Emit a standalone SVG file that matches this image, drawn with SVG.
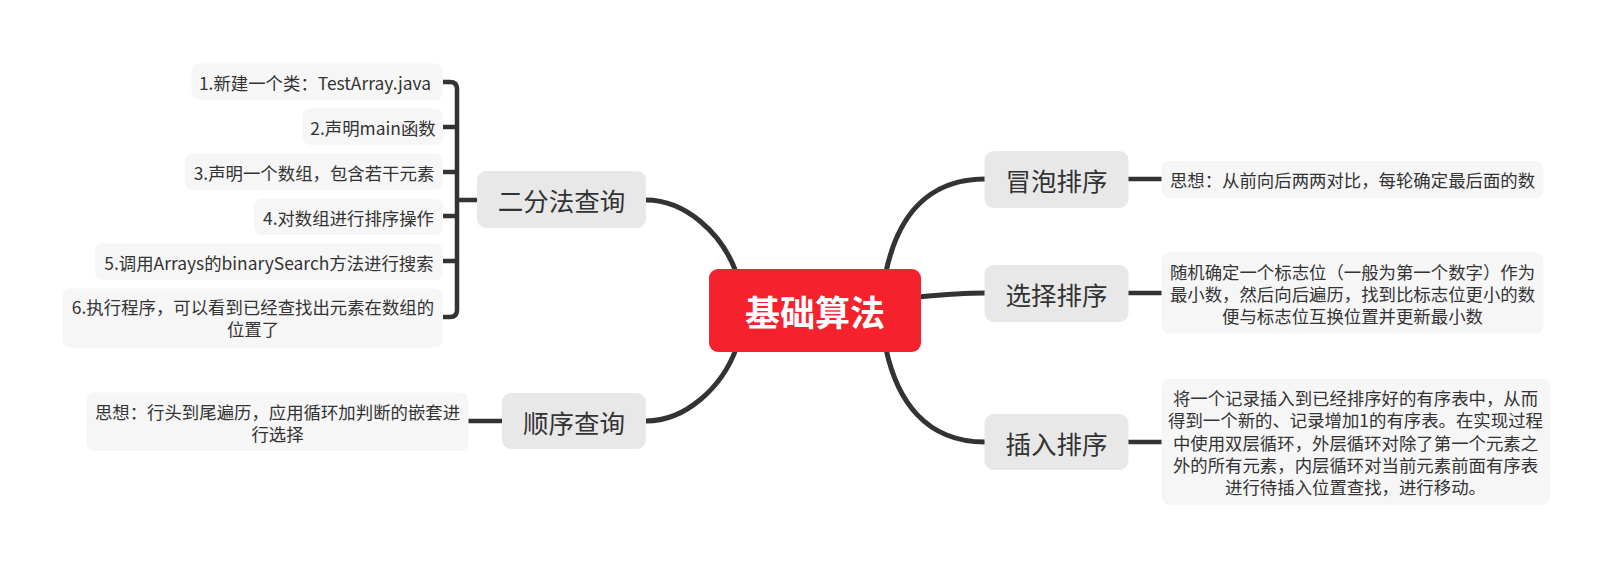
<svg xmlns="http://www.w3.org/2000/svg" width="1613" height="568" viewBox="0 0 1613 568">
<style>
.lnk{fill:none;stroke:#333333;stroke-width:5;stroke-linecap:butt}
.sub{fill:none;stroke:#333333;stroke-width:4.5}
.topic{fill:#E8E8E8}
.det{fill:#F6F6F6}
.tt{font-family:"Noto Sans CJK SC","Microsoft YaHei",sans-serif;font-size:25.5px;fill:#333333;text-anchor:middle;dominant-baseline:central}
.dt{font-family:"Noto Sans CJK SC","Microsoft YaHei",sans-serif;font-size:17.4px;fill:#333333;text-anchor:middle;dominant-baseline:central}
.ct{font-family:"Noto Sans CJK SC","Microsoft YaHei",sans-serif;font-size:35px;font-weight:bold;fill:#FFFFFF;text-anchor:middle;dominant-baseline:central}
</style>
<rect width="1613" height="568" fill="#FFFFFF"/>
<g id="connectors">
<path class="lnk" d="M646 200 C686 200 722 234 736 272"/>
<path class="lnk" d="M646 421 C686 421 722 387 736 349"/>
<path class="lnk" d="M886 272 C897 220 925 179 985 179"/>
<path class="lnk" d="M918 297 C950 294 962 293 985 293"/>
<path class="lnk" d="M886 349 C897 400 925 442 985 442"/>
<path class="sub" d="M1128 179 H1162"/>
<path class="sub" d="M1128 293 H1162"/>
<path class="sub" d="M1128 442 H1162"/>
<path class="sub" d="M502 421 H468"/>
<path class="sub" d="M443 82 H450 Q457 82 457 89 V310 Q457 317 450 317 H443"/>
<path class="sub" d="M443 127 H457 M443 172 H457 M443 216 H457 M443 261 H457 M457 200 H477"/>
</g>
<g id="central">
<rect x="709" y="269" width="212" height="83" rx="9" fill="#F5212D"/>
<text class="ct" x="815" y="310.5">基础算法</text>
</g>
<g id="n-binary">
<rect class="topic" x="477" y="171" width="169" height="57" rx="9"/>
<text class="tt" x="561.5" y="199.5">二分法查询</text>
</g>
<g id="n-seq">
<rect class="topic" x="502" y="393" width="144" height="56" rx="9"/>
<text class="tt" x="574" y="421">顺序查询</text>
</g>
<g id="n-bubble">
<rect class="topic" x="984.5" y="151" width="144" height="57" rx="9"/>
<text class="tt" x="1056.5" y="179.5">冒泡排序</text>
</g>
<g id="n-select">
<rect class="topic" x="984.5" y="265" width="144" height="57" rx="9"/>
<text class="tt" x="1056.5" y="293.5">选择排序</text>
</g>
<g id="n-insert">
<rect class="topic" x="984.5" y="414" width="144" height="56" rx="9"/>
<text class="tt" x="1056.5" y="442">插入排序</text>
</g>
<g id="d-b1">
<rect class="det" x="191.5" y="63.5" width="251.5" height="36.5" rx="8"/>
<text class="dt" x="315" y="82">1.新建一个类：TestArray.java</text>
</g>
<g id="d-b2">
<rect class="det" x="302.5" y="108.5" width="140.5" height="36.5" rx="8"/>
<text class="dt" x="373" y="127">2.声明main函数</text>
</g>
<g id="d-b3">
<rect class="det" x="185" y="153.5" width="258" height="36.5" rx="8"/>
<text class="dt" x="314" y="172">3.声明一个数组，包含若干元素</text>
</g>
<g id="d-b4">
<rect class="det" x="254" y="198.5" width="189" height="36.5" rx="8"/>
<text class="dt" x="348.5" y="217">4.对数组进行排序操作</text>
</g>
<g id="d-b5">
<rect class="det" x="95" y="243.5" width="348" height="36.5" rx="8"/>
<text class="dt" x="269" y="262">5.调用Arrays的binarySearch方法进行搜索</text>
</g>
<g id="d-b6">
<rect class="det" x="62.5" y="288.5" width="380.5" height="59" rx="8"/>
<text class="dt" x="253" y="306.5">6.执行程序，可以看到已经查找出元素在数组的</text>
<text class="dt" x="253" y="328.5">位置了</text>
</g>
<g id="d-seq">
<rect class="det" x="86.5" y="392.5" width="382" height="58.5" rx="8"/>
<text class="dt" x="277.5" y="411.5">思想：行头到尾遍历，应用循环加判断的嵌套进</text>
<text class="dt" x="277.5" y="433.5">行选择</text>
</g>
<g id="d-bubble">
<rect class="det" x="1161.5" y="161" width="382" height="37" rx="8"/>
<text class="dt" x="1352.5" y="179.5">思想：从前向后两两对比，每轮确定最后面的数</text>
</g>
<g id="d-select">
<rect class="det" x="1161.5" y="252.5" width="382" height="81" rx="8"/>
<text class="dt" x="1352.5" y="271.5">随机确定一个标志位（一般为第一个数字）作为</text>
<text class="dt" x="1352.5" y="293.5">最小数，然后向后遍历，找到比标志位更小的数</text>
<text class="dt" x="1352.5" y="315.5">便与标志位互换位置并更新最小数</text>
</g>
<g id="d-insert">
<rect class="det" x="1161.5" y="379" width="388.5" height="126" rx="8"/>
<text class="dt" x="1355.5" y="397.5">将一个记录插入到已经排序好的有序表中，从而</text>
<text class="dt" x="1355.5" y="419.8">得到一个新的、记录增加1的有序表。在实现过程</text>
<text class="dt" x="1355.5" y="442">中使用双层循环，外层循环对除了第一个元素之</text>
<text class="dt" x="1355.5" y="464.2">外的所有元素，内层循环对当前元素前面有序表</text>
<text class="dt" x="1355.5" y="486.5">进行待插入位置查找，进行移动。</text>
</g>
</svg>
